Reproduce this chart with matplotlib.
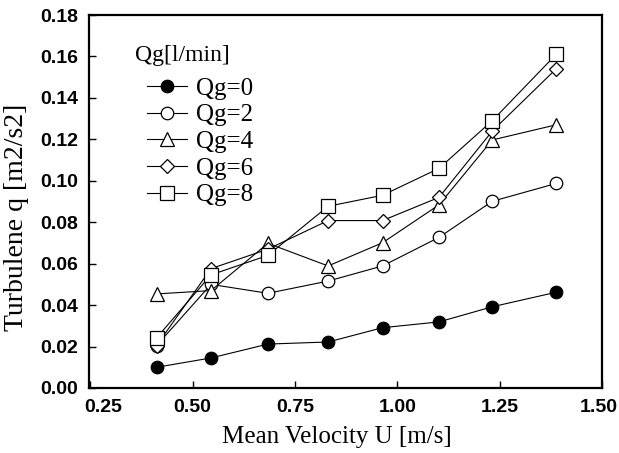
import matplotlib
matplotlib.use("Agg")
import matplotlib.pyplot as plt
import matplotlib.transforms as mtransforms

# Data
velocity = [0.412, 0.545, 0.684, 0.831, 0.964, 1.102, 1.232, 1.388]
qg0 = [0.0100, 0.0145, 0.0212, 0.0222, 0.0291, 0.0319, 0.0392, 0.0462]
qg2 = [0.0205, 0.0500, 0.0457, 0.0516, 0.0589, 0.0727, 0.0901, 0.0987]
qg4 = [0.0454, 0.0470, 0.0698, 0.0589, 0.0701, 0.0884, 0.1197, 0.1270]
qg6 = [0.0205, 0.0576, 0.0670, 0.0808, 0.0808, 0.0920, 0.1240, 0.1540]
qg8 = [0.0242, 0.0546, 0.0640, 0.0877, 0.0930, 0.1060, 0.1290, 0.1610]
series_labels = ["Qg=0", "Qg=2", "Qg=4", "Qg=6", "Qg=8"]
legend_title = "Qg[l/min]"
x_ticks = [0.25, 0.50, 0.75, 1.00, 1.25, 1.50]
y_ticks = [0.00, 0.02, 0.04, 0.06, 0.08, 0.10, 0.12, 0.14, 0.16, 0.18]

W, H = 619, 453
fig = plt.figure(figsize=(W / 100, H / 100), dpi=100)
L, R, T, B = 89, 602, 15, 388
ax = fig.add_axes([L / W, 1 - B / H, (R - L) / W, (B - T) / H])

serif = "Liberation Serif"
sans = "Liberation Sans"

styles = [
    dict(marker="o", mfc="black", ms=9),
    dict(marker="o", mfc="white", ms=9),
    dict(marker="^", mfc="white", ms=10),
    dict(marker="D", mfc="white", ms=7.5),
    dict(marker="s", mfc="white", ms=9.5),
]
all_series = [qg0, qg2, qg4, qg6, qg8]
handles = []
for ys, lab, st in zip(all_series, series_labels, styles):
    h, = ax.plot(velocity, ys, color="black", lw=0.8, mec="black", mew=0.9,
                 label=lab, **st)
    handles.append(h)

ax.set_xlim(0.247, 1.50)
ax.set_ylim(0.0, 0.18)
ax.set_xticks(x_ticks)
ax.set_yticks(y_ticks)
ax.set_xticklabels([f"{v:.2f}" for v in x_ticks])
ax.set_yticklabels([f"{v:.2f}" for v in y_ticks])
ax.tick_params(direction="in", length=5, width=1.0, pad=8)
for lbl in ax.get_xticklabels() + ax.get_yticklabels():
    lbl.set_fontfamily(sans)
    lbl.set_fontweight("bold")
    lbl.set_fontsize(14)
# first x tick label is shifted right in the reference, last slightly left
xl = ax.get_xticklabels()
xl[0].set_transform(xl[0].get_transform() +
                    mtransforms.ScaledTranslation(13 / 100, 0, fig.dpi_scale_trans))
xl[-1].set_transform(xl[-1].get_transform() +
                     mtransforms.ScaledTranslation(-3 / 100, 0, fig.dpi_scale_trans))
for sp in ax.spines.values():
    sp.set_linewidth(1.6)

fig.text(337 / W, 1 - 437 / H, "Mean Velocity U [m/s]", family=serif,
         fontsize=18, ha="center", va="center")
fig.text(17 / W, 1 - 217 / H, "Turbulene q [m2/s2]", family=serif,
         fontsize=20, ha="center", va="center", rotation=90)

# legend title
fig.text(135 / W, 1 - 55 / H, legend_title, family=serif, fontsize=17,
         ha="left", va="center")
leg = ax.legend(handles=handles, loc="upper left",
                bbox_to_anchor=((147 - L) / (R - L), (B - 77) / (B - T)),
                frameon=False, prop={"family": serif, "size": 18},
                handlelength=1.6, handletextpad=0.36, labelspacing=0.17,
                borderpad=0, borderaxespad=0)

fig.savefig("out.png", dpi=100, facecolor="white")
